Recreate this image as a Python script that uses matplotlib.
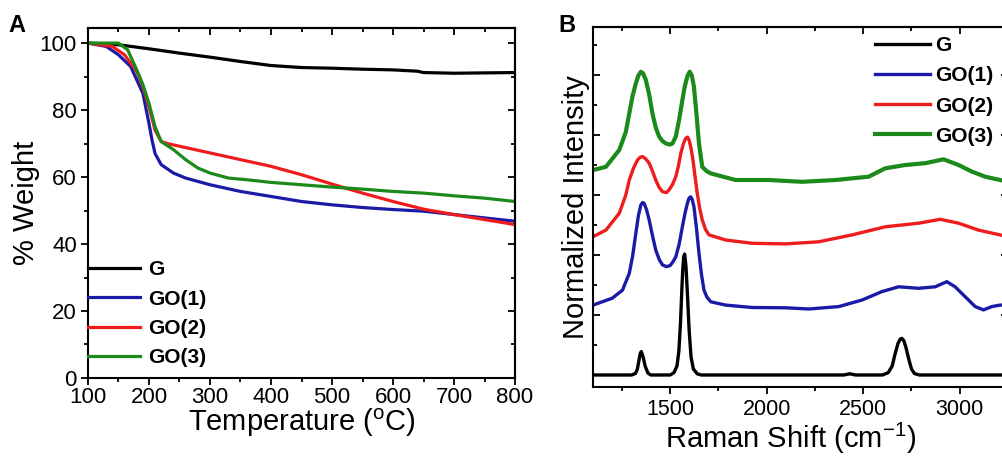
import matplotlib.pyplot as plt
from matplotlib.ticker import MultipleLocator

plt.rcParams['font.family'] = ['Liberation Sans', 'DejaVu Sans']
plt.rcParams['mathtext.fontset'] = 'custom'
plt.rcParams['mathtext.rm'] = 'Liberation Sans'

# ---- Panel A: TGA data ----
names = ['G', 'GO(1)', 'GO(2)', 'GO(3)']
colors = ['#000000', '#1a1aa6', '#ee1c1c', '#1b8a1b']

tga_g_t = [100, 150, 200, 250, 300, 350, 400, 450, 500, 550, 600, 640, 650, 700, 750, 800]
tga_g_w = [100, 99.5, 98.3, 97.0, 95.8, 94.5, 93.3, 92.7, 92.5, 92.2, 92.0, 91.6, 91.2, 91.0, 91.1, 91.2]

tga_go1_t = [100, 130, 150, 170, 190, 200, 205, 210, 220, 240, 260, 300, 350, 400, 450, 500, 550, 600, 650, 700, 750, 800]
tga_go1_w = [100, 99, 96.5, 93, 85, 76, 71, 67, 63.7, 61.2, 59.7, 57.7, 55.7, 54.2, 52.7, 51.7, 50.9, 50.3, 49.8, 48.8, 47.8, 46.8]

tga_go2_t = [100, 140, 160, 180, 190, 200, 210, 220, 230, 250, 300, 350, 400, 450, 500, 550, 600, 650, 700, 750, 800]
tga_go2_w = [100, 99, 96.5, 91.5, 87, 81, 74, 70.6, 70, 69.2, 67.2, 65.2, 63.2, 60.7, 57.9, 55.2, 52.7, 50.4, 48.8, 47.3, 45.8]

tga_go3_t = [100, 150, 165, 180, 190, 200, 210, 220, 240, 260, 280, 300, 330, 360, 400, 450, 500, 550, 600, 650, 700, 750, 800]
tga_go3_w = [100, 100, 98, 92, 87.6, 82, 75, 70.6, 68.2, 65.2, 62.7, 61.2, 59.7, 59.2, 58.4, 57.7, 57, 56.4, 55.7, 55.2, 54.4, 53.7, 52.7]

# ---- Panel B: Raman data (offset normalized intensity) ----
ram_g_x = [1100, 1300, 1320, 1330, 1340, 1345, 1350, 1360, 1370, 1385, 1400, 1500, 1520, 1535, 1545,
           1553, 1560, 1565, 1570, 1575, 1582, 1590, 1598, 1608, 1620, 1640, 1660, 2400, 2430, 2460,
           2600, 2630, 2650, 2665, 2680, 2692, 2700, 2710, 2722, 2735, 2750, 2765, 2790, 3250]
ram_g_y = [0, 0, 0.05, 0.2, 0.55, 0.72, 0.78, 0.6, 0.3, 0.06, 0, 0, 0.08, 0.3, 0.8,
           1.7, 2.8, 3.5, 3.95, 4.03, 3.6, 2.6, 1.5, 0.6, 0.2, 0.04, 0, 0, 0.04, 0,
           0, 0.08, 0.3, 0.7, 1.05, 1.2, 1.22, 1.15, 0.9, 0.55, 0.2, 0.05, 0, 0]

ram_go1_x = [1100, 1200, 1253, 1288, 1305, 1322, 1335, 1348, 1357, 1365, 1378, 1391, 1408, 1425, 1443, 1460,
             1481, 1500, 1515, 1529, 1546, 1563, 1577, 1589, 1598, 1606, 1614, 1623, 1636, 1649, 1662, 1675,
             1690, 1710, 1787, 1925, 2097, 2218, 2373, 2494, 2597, 2683, 2787, 2873, 2933, 2976, 3028,
             3080, 3123, 3166, 3209, 3250]
ram_go1_y = [2.33, 2.56, 2.83, 3.39, 3.95, 4.72, 5.3, 5.67, 5.75, 5.72, 5.5, 5.17, 4.65, 4.17, 3.85, 3.67,
             3.61, 3.65, 3.78, 3.94, 4.35, 4.94, 5.4, 5.72, 5.9, 5.94, 5.85, 5.61, 4.9, 4.06, 3.35, 2.83,
             2.6, 2.44, 2.33, 2.25, 2.24, 2.2, 2.28, 2.5, 2.78, 2.94, 2.89, 2.94, 3.11, 2.94, 2.61,
             2.28, 2.17, 2.28, 2.33, 2.33]

ram_go2_x = [1100, 1167, 1236, 1270, 1288, 1310, 1331, 1345, 1357, 1374, 1391, 1408, 1425, 1443, 1460,
             1481, 1494, 1512, 1529, 1542, 1555, 1568, 1580, 1590, 1598, 1608, 1618, 1629, 1640, 1653,
             1666, 1683, 1701, 1787, 1925, 2097, 2270, 2442, 2614, 2787, 2899, 2994, 3097, 3209, 3250]
ram_go2_y = [4.61, 4.83, 5.39, 6.0, 6.5, 6.9, 7.17, 7.26, 7.28, 7.2, 7.06, 6.8, 6.5, 6.25, 6.11,
             6.08, 6.17, 6.35, 6.61, 6.95, 7.39, 7.7, 7.89, 7.93, 7.83, 7.55, 7.17, 6.6, 6.06, 5.55,
             5.17, 4.85, 4.67, 4.5, 4.39, 4.37, 4.44, 4.67, 4.94, 5.06, 5.19, 5.06, 4.83, 4.67, 4.6]

ram_go3_x = [1100, 1167, 1236, 1270, 1288, 1305, 1322, 1335, 1348, 1360, 1374, 1391, 1408, 1425, 1443,
             1460, 1477, 1498, 1512, 1529, 1546, 1560, 1575, 1590, 1601, 1612, 1623, 1636, 1649, 1666,
             1688, 1710, 1839, 2011, 2183, 2356, 2528, 2614, 2718, 2821, 2916, 2994, 3063, 3132, 3209, 3250]
ram_go3_y = [6.83, 6.94, 7.5, 8.1, 8.72, 9.3, 9.72, 9.98, 10.11, 10.05, 9.83, 9.35, 8.72, 8.25, 7.94,
             7.8, 7.72, 7.68, 7.72, 7.95, 8.5, 9.05, 9.61, 9.98, 10.11, 9.98, 9.61, 8.7, 7.72, 6.94,
             6.8, 6.72, 6.5, 6.5, 6.44, 6.5, 6.61, 6.89, 7.0, 7.06, 7.19, 7.0, 6.78, 6.61, 6.5, 6.45]

fig = plt.figure(figsize=(10.02, 4.57), dpi=100)


def mirror_x(ax, major, minor):
    # top axis with inward ticks, no labels
    sec = ax.secondary_xaxis('top')
    sec.xaxis.set_major_locator(MultipleLocator(major))
    sec.xaxis.set_minor_locator(MultipleLocator(minor))
    sec.tick_params(which='both', direction='in', width=1.3, labeltop=False)
    sec.tick_params(which='major', length=5)
    sec.tick_params(which='minor', length=3)
    sec.spines['top'].set_linewidth(1.5)
    return sec


def mirror_y(ax, major, minor):
    sec = ax.secondary_yaxis('right')
    sec.yaxis.set_major_locator(MultipleLocator(major))
    sec.yaxis.set_minor_locator(MultipleLocator(minor))
    sec.tick_params(which='both', direction='in', width=1.3, labelright=False)
    sec.tick_params(which='major', length=5)
    sec.tick_params(which='minor', length=3)
    sec.spines['right'].set_linewidth(1.5)
    return sec


# Panel A
axA = fig.add_axes([0.0878, 0.1729, 0.4262, 0.7658])
tga = [(tga_g_t, tga_g_w), (tga_go1_t, tga_go1_w), (tga_go2_t, tga_go2_w), (tga_go3_t, tga_go3_w)]
for (t, w), c, n in zip(tga, colors, names):
    axA.plot(t, w, color=c, lw=2.3, label=n)
axA.set_xlim(100, 800)
axA.set_ylim(0, 104.5)
axA.xaxis.set_major_locator(MultipleLocator(100))
axA.xaxis.set_minor_locator(MultipleLocator(50))
axA.yaxis.set_major_locator(MultipleLocator(20))
axA.yaxis.set_minor_locator(MultipleLocator(10))
for s in axA.spines.values():
    s.set_linewidth(1.5)
axA.tick_params(which='both', direction='out', width=1.3, labelsize=16)
axA.tick_params(which='major', length=5)
axA.tick_params(which='minor', length=3)
axA.tick_params(axis='x', pad=1.5)
axA.tick_params(axis='y', pad=3)
mirror_x(axA, 100, 50)
mirror_y(axA, 20, 10)
axA.set_xlabel('Temperature ($^\\mathregular{o}$C)', fontsize=21)
axA.xaxis.set_label_coords(0.5, -0.082)
axA.set_ylabel('% Weight', fontsize=21, labelpad=0)
axA.legend(loc='lower left', bbox_to_anchor=(0, 0.03), frameon=False, borderpad=0, borderaxespad=0,
           handlelength=2.5, handletextpad=0.4, labelspacing=0.5,
           prop=dict(family='Liberation Sans', weight='bold', size=15))
fig.text(0.017, 0.945, 'A', fontsize=17, fontweight='bold', ha='center', va='center')

# Panel B
axB = fig.add_axes([0.5918, 0.1532, 0.4142, 0.7877])
ram = [(ram_g_x, ram_g_y), (ram_go1_x, ram_go1_y), (ram_go2_x, ram_go2_y), (ram_go3_x, ram_go3_y)]
for (x, y), c, n in zip(ram, colors, names):
    axB.plot(x, y, color=c, lw=2.4 if n != 'GO(3)' else 3.0, label=n)
axB.set_xlim(1100, 3250)
axB.set_ylim(-0.4, 11.6)
axB.xaxis.set_major_locator(MultipleLocator(500))
axB.xaxis.set_minor_locator(MultipleLocator(250))
axB.yaxis.set_major_locator(MultipleLocator(2))
axB.yaxis.set_minor_locator(MultipleLocator(1))
for s in axB.spines.values():
    s.set_linewidth(1.5)
axB.tick_params(axis='x', which='both', direction='out', width=1.3, labelsize=15.5, pad=4)
axB.tick_params(axis='y', which='both', direction='in', width=1.3, left=True, right=True, labelleft=False)
axB.tick_params(which='major', length=5)
axB.tick_params(which='minor', length=3)
mirror_x(axB, 500, 250)
axB.set_xlabel('Raman Shift (cm$^\\mathregular{-1}$)', fontsize=21)
axB.xaxis.set_label_coords(0.475, -0.094)
axB.set_ylabel('Normalized Intensity', fontsize=21, labelpad=2)
axB.legend(loc='upper left', bbox_to_anchor=(0.68, 0.975), frameon=False, borderpad=0, borderaxespad=0,
           handlelength=2.64, handletextpad=0.24, labelspacing=0.54,
           prop=dict(family='Liberation Sans', weight='bold', size=15))
fig.text(0.566, 0.945, 'B', fontsize=17, fontweight='bold', ha='center', va='center')

fig.savefig('out.png', dpi=100)
